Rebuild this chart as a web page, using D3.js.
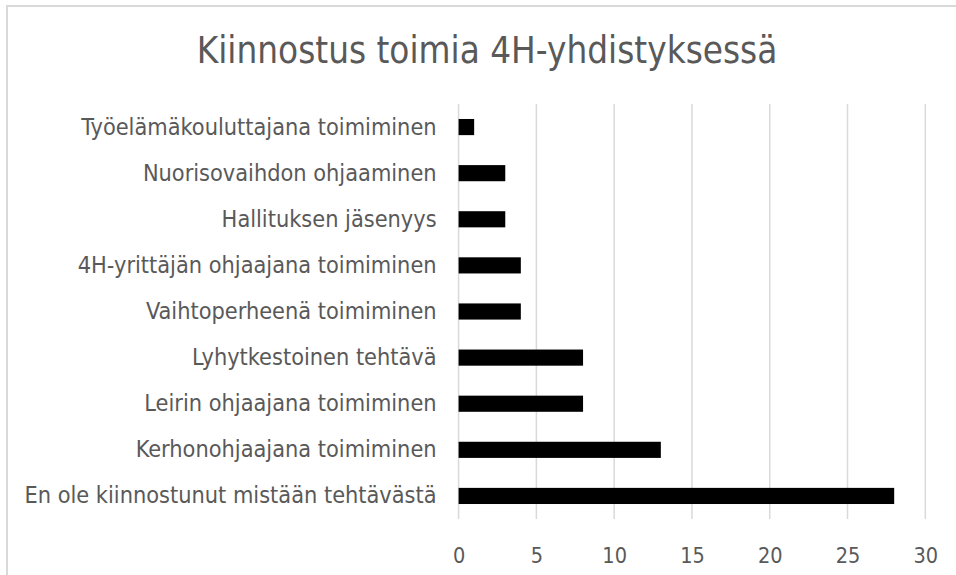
<!DOCTYPE html>
<html>
<head>
<meta charset="utf-8">
<script src="https://cdn.jsdelivr.net/npm/d3@7"></script>
<style>
  html, body { margin: 0; padding: 0; background: #fff; }
  svg { display: block; }
  .lbl { font-family: "DejaVu Sans Condensed", "DejaVu Sans", sans-serif; font-stretch: condensed; fill: #595959; }
</style>
</head>
<body>
<svg id="chart" width="956" height="575"></svg>
<script>
const title = 'Kiinnostus toimia 4H-yhdistyksessä';
const categories = [
  'Työelämäkouluttajana toimiminen',
  'Nuorisovaihdon ohjaaminen',
  'Hallituksen jäsenyys',
  '4H-yrittäjän ohjaajana toimiminen',
  'Vaihtoperheenä toimiminen',
  'Lyhytkestoinen tehtävä',
  'Leirin ohjaajana toimiminen',
  'Kerhonohjaajana toimiminen',
  'En ole kiinnostunut mistään tehtävästä'
];
const values = [1, 3, 3, 4, 4, 8, 8, 13, 28];
const xTicks = [0, 5, 10, 15, 20, 25, 30];

const svg = d3.select('#chart');
const margin = { top: 104, left: 458.6, right: 956 - 925.3, bottom: 575 - 519 };
const width = 956, height = 575;
const innerW = width - margin.left - margin.right;
const innerH = height - margin.top - margin.bottom;

// chart border (cropped at right and bottom)
svg.append('rect')
  .attr('x', 7).attr('y', 6)
  .attr('width', 980).attr('height', 600)
  .attr('fill', 'none')
  .attr('stroke', '#d9d9d9')
  .attr('stroke-width', 2);

svg.append('text')
  .attr('class', 'lbl')
  .attr('x', 487).attr('y', 63)
  .attr('text-anchor', 'middle')
  .attr('font-size', '36.5px')
  .text(title);

const g = svg.append('g')
  .attr('transform', `translate(${margin.left},${margin.top})`);

const x = d3.scaleLinear().domain([0, 30]).range([0, innerW]);
const y = d3.scaleBand().domain(categories).range([0, innerH]).paddingInner(0.65).paddingOuter(0.325);

// grid
g.append('g')
  .selectAll('line')
  .data(xTicks)
  .join('line')
  .attr('x1', d => x(d)).attr('x2', d => x(d))
  .attr('y1', 0).attr('y2', innerH)
  .attr('stroke', '#d9d9d9')
  .attr('stroke-width', 1.5);

// x axis labels
const xAxis = g.append('g')
  .attr('transform', `translate(0,${innerH})`)
  .call(d3.axisBottom(x).tickValues(xTicks).tickSize(0).tickPadding(29));
xAxis.select('.domain').remove();
xAxis.selectAll('text')
  .attr('class', 'lbl')
  .attr('font-size', '21.5px');

// y axis labels
const yAxis = g.append('g')
  .call(d3.axisLeft(y).tickSize(0).tickPadding(22));
yAxis.select('.domain').remove();
yAxis.selectAll('text')
  .attr('class', 'lbl')
  .attr('font-size', '23.3px');

// bars
g.selectAll('.bar')
  .data(categories)
  .join('rect')
  .attr('class', 'bar')
  .attr('x', x(0))
  .attr('y', d => y(d))
  .attr('width', (d, i) => x(values[i]) - x(0))
  .attr('height', y.bandwidth())
  .attr('fill', '#000');
</script>
</body>
</html>
